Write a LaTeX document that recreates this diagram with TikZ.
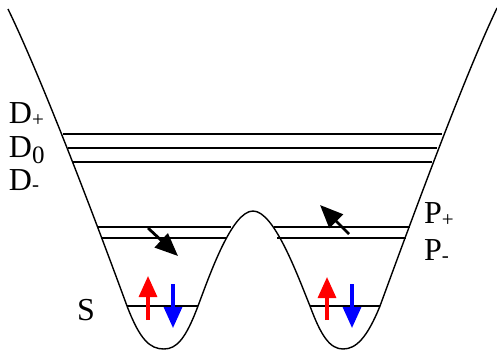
\documentclass[tikz,border=0pt]{standalone}
\usepackage{fontspec}
\setmainfont{Liberation Serif}
\usetikzlibrary{arrows.meta}
\newcommand{\bigf}{\fontsize{32}{32}\selectfont}
\newcommand{\subf}{\fontsize{21}{21}\selectfont}
\newcommand{\subz}{\fontsize{25}{25}\selectfont}
\tikzset{
  pot/.style={line width=1.4pt, line join=round},
  level/.style={line width=1.1pt},
  spinup/.style={red, line width=3.2pt, -{Triangle[length=21pt,width=18pt]}},
  spindown/.style={blue, line width=3.2pt, -{Triangle[length=21pt,width=18pt]}},
  hop/.style={black, line width=2.8pt, -{Triangle[length=23pt,width=19pt]}},
  lab/.style={anchor=base west, inner sep=0pt, outer sep=0pt}
}
\begin{document}
\begin{tikzpicture}[x=1pt,y=-1pt]
\useasboundingbox (0,0) rectangle (497,351);
% potential curve
\draw[pot] (8,9) .. controls (40,75) and (90,205) .. (127,306)
  .. controls (140,340) and (150,349) .. (164,349)
  .. controls (177,349) and (186,338) .. (198,306)
  .. controls (210,274) and (232,211) .. (253,211)
  .. controls (274,211) and (297,274) .. (310,306)
  .. controls (321,336) and (330,349) .. (343,349)
  .. controls (356,349) and (367,338) .. (380,306)
  .. controls (417,205) and (465,75) .. (497,8);
% D levels
\draw[level] (63,134) -- (442,134);
\draw[level] (68,148) -- (437,148);
\draw[level] (73,162) -- (432,162);
% P levels
\draw[level] (97,227) -- (231,227);
\draw[level] (101,238) -- (227,238);
\draw[level] (274,227) -- (410,227);
\draw[level] (277,238) -- (406,238);
% S levels
\draw[level] (127,306) -- (198,306);
\draw[level] (310,306) -- (380,306);
% spins
\coordinate (lu0) at (148,320); \coordinate (lu1) at (148,276);
\coordinate (ld0) at (173,284); \coordinate (ld1) at (173,328);
\coordinate (ru0) at (327,320); \coordinate (ru1) at (327,277);
\coordinate (rd0) at (352,284); \coordinate (rd1) at (352,328);
\draw[spinup] (lu0) -- (lu1);
\draw[spindown] (ld0) -- (ld1);
\draw[spinup] (ru0) -- (ru1);
\draw[spindown] (rd0) -- (rd1);
% hopping arrows
\coordinate (ha0) at (148,228); \coordinate (ha1) at (178,256);
\coordinate (hb0) at (349,234); \coordinate (hb1) at (320,205);
\draw[hop] (ha0) -- (ha1);
\draw[hop] (hb0) -- (hb1);
% labels
\node[lab] (Dp) at (9,123) {\bigf D\raisebox{-3pt}{\subf +}};
\node[lab] (D0) at (9,157) {\bigf D\raisebox{-6pt}{\subz 0}};
\node[lab] (Dm) at (9,190) {\bigf D\raisebox{-1pt}{\subf -}};
\node[lab] (Pp) at (424,223) {\bigf P\raisebox{-3pt}{\subf +}};
\node[lab] (Pm) at (424,260) {\bigf P\raisebox{-2pt}{\subf -}};
\node[lab] (S) at (77,320) {\bigf S};
\end{tikzpicture}
\end{document}
